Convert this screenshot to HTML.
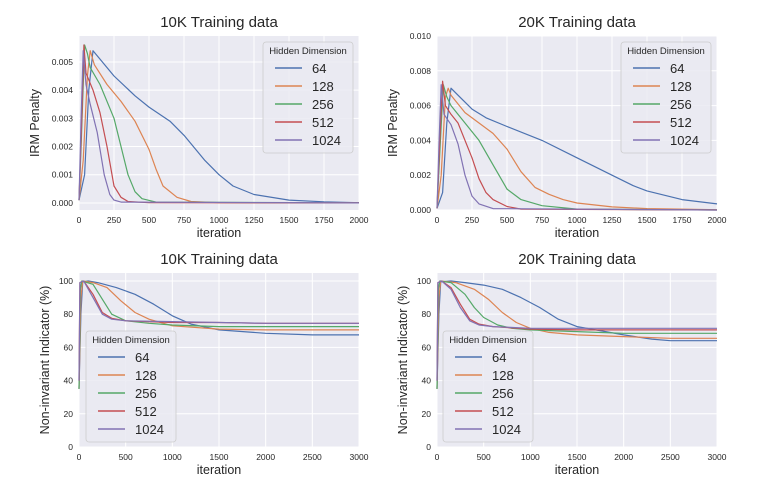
<!DOCTYPE html>
<html><head><meta charset="utf-8"><style>
body{margin:0;background:#fff;}
svg{display:block;font-family:"Liberation Sans",sans-serif;}
</style></head><body>
<svg id="fig" width="768" height="503" viewBox="0 0 768 503" xmlns="http://www.w3.org/2000/svg"></svg>
<script>
const seriesNames=["64","128","256","512","1024"];
const colors=["#4c72b0","#dd8452","#55a868","#c44e52","#8172b3"];
// top-left: 10K IRM penalty (units 0.001)
const tlX=[
[0,40,70,100,150,250,400,500,650,750,900,1000,1100,1250,1500,1750,2000],
[0,30,60,80,110,200,300,400,500,550,600,700,800,1000,2000],
[0,15,40,60,80,150,250,300,350,400,450,550,2000],
[0,20,35,50,100,150,200,250,300,350,500,2000],
[0,15,30,50,80,130,180,220,250,300,2000]];
const tlY=[
[0.1,1,4,5.4,5.1,4.5,3.8,3.4,2.9,2.4,1.5,1.0,0.6,0.3,0.1,0.04,0.01],
[0.1,1.5,4.5,5.4,4.9,4.2,3.6,2.9,1.9,1.2,0.6,0.2,0.05,0.01,0],
[0.1,2,5.6,5.3,4.8,4.2,3.0,2.0,1.0,0.4,0.15,0.03,0],
[0.1,3,5.6,4.6,4.0,3.2,2.0,0.6,0.2,0.05,0.01,0],
[0.1,3,5.4,4.2,3.5,2.5,1.0,0.3,0.1,0.03,0]];
// top-right: 20K IRM penalty (units 0.001)
const trX=[
[0,40,70,100,150,250,350,500,750,1000,1250,1400,1500,1750,2000],
[0,30,60,80,100,200,300,400,500,600,700,800,900,1000,1250,1500,2000],
[0,15,45,70,100,200,300,400,500,600,750,1000,2000],
[0,20,40,60,100,150,250,300,350,400,500,600,2000],
[0,15,30,50,100,150,200,250,300,400,2000]];
const trY=[
[0.1,1,5,7.0,6.6,5.8,5.3,4.8,4.0,3.0,2.0,1.4,1.1,0.6,0.35],
[0.1,2,6.5,7.0,6.6,5.6,5.0,4.4,3.5,2.2,1.3,0.9,0.6,0.4,0.18,0.08,0.02],
[0.1,2.5,7.2,6.5,6.0,5.0,4.0,2.6,1.2,0.6,0.25,0.05,0],
[0.1,4,7.4,6.0,5.5,5.0,3.0,1.8,1.0,0.6,0.2,0.05,0],
[0.1,4,7.2,5.5,4.9,3.8,2.0,0.8,0.35,0.08,0]];
// bottom-left: 10K non-invariant indicator (%)
const blX=[
[0,20,40,100,200,400,600,800,1000,1200,1500,2000,2500,3000],
[0,20,40,150,300,450,600,750,1000,1500,2000,3000],
[0,15,30,150,250,350,500,750,1000,1500,2000,3000],
[0,10,50,150,250,350,500,1000,1500,2000,3000],
[0,10,50,150,250,350,500,1000,1500,2000,3000]];
const blY=[
[35,80,99.5,100,99,96,92,86,79,74,70.5,68.5,67.5,67.5],
[35,90,100,99,96,88,81,77,73,71,70.5,70.5],
[35,95,100,98,89,80,76,74.5,73.5,72.5,72.5,72.5],
[40,99,100,92,81,77.5,76,75,75,74.5,74.5],
[40,99,100,90,80,77,76,75.5,75,74.5,74.5]];
// bottom-right: 20K non-invariant indicator (%)
const brX=[
[0,20,40,150,300,500,700,900,1100,1300,1500,1700,2000,2300,2500,3000],
[0,20,40,200,400,550,700,850,1000,1200,1500,2000,2500,3000],
[0,15,30,150,300,400,500,650,800,1000,1500,2000,3000],
[0,10,50,150,250,350,450,600,1000,1500,3000],
[0,10,50,150,250,350,450,600,1000,1500,3000]];
const brY=[
[35,80,99.5,100,99,97.5,95,90,84,77,72.5,70.5,67.5,65,64,64],
[35,90,100,99,95,89,81,75,71.5,69,67.5,66.5,65.5,65.5],
[35,95,100,99,92,84,78,73.5,71.5,70.5,69.5,68.5,68.5],
[40,99,100,96,86,77,74,72.5,71,70.5,70.5],
[40,99,100,95,84,76,73.5,72.5,71.5,71.5,71.5]];
const topXTicks=[0,250,500,750,1000,1250,1500,1750,2000];
const botXTicks=[0,500,1000,1500,2000,2500,3000];
const tlYTicks=["0.000","0.001","0.002","0.003","0.004","0.005"];
const trYTicks=["0.000","0.002","0.004","0.006","0.008","0.010"];
const botYTicks=["0","20","40","60","80","100"];

const NS="http://www.w3.org/2000/svg";
const fig=document.getElementById('fig');
function mk(tag,attrs,parent){const e=document.createElementNS(NS,tag);for(const k in attrs)e.setAttribute(k,attrs[k]);(parent||fig).appendChild(e);return e;}

function panel(o){
  const g=mk('g',{});
  
  
  const sx=v=>o.x0+(v-o.xmin)/(o.xmax-o.xmin)*(o.x1-o.x0);
  const sy=v=>o.y1-(v-o.ymin)/(o.ymax-o.ymin)*(o.y1-o.y0);
  const bg=mk('rect',{x:o.x0,y:o.y0,width:o.x1-o.x0,height:o.y1-o.y0,fill:'#eaeaf2'},g);
  
  
  o.xt.forEach(t=>{
    mk('line',{x1:sx(t),x2:sx(t),y1:o.y0,y2:o.y1,stroke:'#fff','stroke-width':1},g);
    const tx=mk('text',{x:sx(t),y:o.y1+13,'font-size':8.5,'text-anchor':'middle',fill:'#262626'},g);
    tx.textContent=t;
    
    
  });
  o.yt.forEach((lab,i)=>{
    const v=parseFloat(lab)*o.yscale;
    mk('line',{x1:o.x0,x2:o.x1,y1:sy(v),y2:sy(v),stroke:'#fff','stroke-width':1},g);
    const tx=mk('text',{x:o.x0-6,y:sy(v)+3,'font-size':8.5,'text-anchor':'end',fill:'#262626'},g);
    tx.textContent=lab;
    
    
  });
  o.xs.forEach((xs,i)=>{
    const pts=xs.map((x,j)=>sx(x).toFixed(1)+','+sy(o.ys[i][j]).toFixed(1)).join(' ');
    const pl=mk('polyline',{points:pts,fill:'none',stroke:colors[i],'stroke-width':1.2,'stroke-linejoin':'round'},g);
    
    
  });
  const t=mk('text',{x:(o.x0+o.x1)/2,y:o.y0-9,'font-size':15,'text-anchor':'middle',fill:'#262626'},g);
  t.textContent=o.title;
  
  
  const xl=mk('text',{x:(o.x0+o.x1)/2,y:o.y1+27,'font-size':12.5,'text-anchor':'middle',fill:'#262626'},g);
  xl.textContent='iteration';
  
  
  const yl=mk('text',{x:0,y:0,'font-size':12.5,'text-anchor':'middle',fill:'#262626',transform:`translate(${o.ylx},${(o.y0+o.y1)/2}) rotate(-90)`},g);
  yl.textContent=o.ylabel;
  
  
  // legend
  const L=o.leg;
  const lg=mk('g',{},g);
  
  
  mk('rect',{x:L.x,y:L.y,width:90,height:111,rx:3,fill:'#eaeaf2','fill-opacity':0.85,stroke:'#cccccc','stroke-width':0.8},lg);
  const lt=mk('text',{x:L.x+45,y:L.y+12,'font-size':9.5,'text-anchor':'middle',fill:'#262626'},lg);
  lt.textContent='Hidden Dimension';
  seriesNames.forEach((n,i)=>{
    const yy=L.y+26+i*18;
    const e=mk('g',{},lg);
    
    
    mk('line',{x1:L.x+12,x2:L.x+39,y1:yy,y2:yy,stroke:colors[i],'stroke-width':1.4},e);
    const tx=mk('text',{x:L.x+49,y:yy+5,'font-size':13,fill:'#262626'},e);
    tx.textContent=n;
  });
}
panel({name:'chart-10k-irm',title:'10K Training data',x0:79,x1:359,y0:36,y1:210,xmin:0,xmax:2000,ymin:-0.25,ymax:5.92,yscale:1000,xt:topXTicks,yt:tlYTicks,xs:tlX,ys:tlY,ylabel:'IRM Penalty',ylx:39,leg:{x:263,y:42}});
panel({name:'chart-20k-irm',title:'20K Training data',x0:437,x1:717,y0:36,y1:210,xmin:0,xmax:2000,ymin:0,ymax:10,yscale:1000,xt:topXTicks,yt:trYTicks,xs:trX,ys:trY,ylabel:'IRM Penalty',ylx:397,leg:{x:621,y:42}});
panel({name:'chart-10k-indicator',title:'10K Training data',x0:79,x1:359,y0:273,y1:447,xmin:0,xmax:3000,ymin:0,ymax:104.8,yscale:1,xt:botXTicks,yt:botYTicks,xs:blX,ys:blY,ylabel:'Non-invariant Indicator (%)',ylx:49,leg:{x:86,y:331}});
panel({name:'chart-20k-indicator',title:'20K Training data',x0:437,x1:717,y0:273,y1:447,xmin:0,xmax:3000,ymin:0,ymax:104.8,yscale:1,xt:botXTicks,yt:botYTicks,xs:brX,ys:brY,ylabel:'Non-invariant Indicator (%)',ylx:407,leg:{x:443,y:331}});
</script>
</body></html>
